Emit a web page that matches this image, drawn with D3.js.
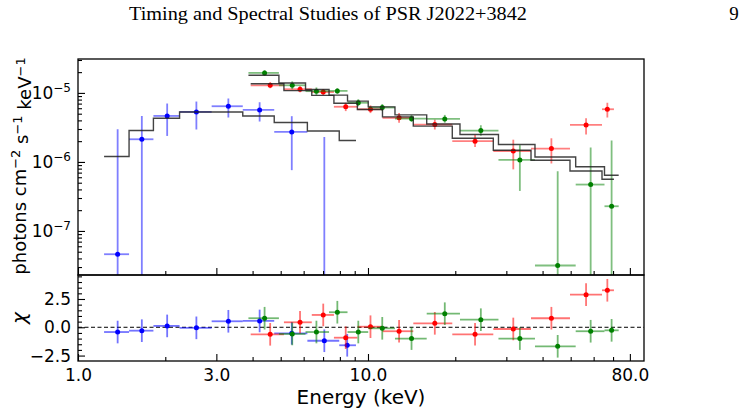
<!DOCTYPE html>
<html>
<head>
<meta charset="utf-8">
<script src="https://cdn.jsdelivr.net/npm/d3@7"></script>
<style>
  body { margin: 0; background: #fff; }
  text { font-family: "DejaVu Sans", sans-serif; }
</style>
</head>
<body>
<div id="canvas"></div>
<script>
// blue series (soft X-ray)
const blueLo = [1.23, 1.50, 1.82, 2.24, 2.89, 3.70, 4.75, 6.18, 7.96];
const blueHi = [1.50, 1.82, 2.24, 2.89, 3.70, 4.75, 6.18, 7.96, 9.09];
const blueE = [1.37, 1.66, 2.03, 2.56, 3.30, 4.23, 5.46, 7.07, 8.48];
const blueFlux = [4.6e-8, 2.13e-6, 4.64e-6, 5.3e-6, 6.41e-6, 5.67e-6, 2.72e-6, -3.8e-7, -3.5e-6];
const blueFluxLo = [-2.9e-6, -4e-7, 2.38e-6, 2.95e-6, 4.4e-6, 3.85e-6, 7.6e-7, -3.06e-6, -6.95e-6];
const blueFluxHi = [2.98e-6, 4.64e-6, 7.02e-6, 7.5e-6, 8.3e-6, 7.33e-6, 4.6e-6, 2.3e-6, -5e-8];
const blueModel = [1.2e-6, 2.85e-6, 4.3e-6, 5.3e-6, 5.3e-6, 4.64e-6, 3.72e-6, 2.81e-6, 2.04e-6];
const blueChi = [-0.42, -0.30, 0.12, -0.05, 0.53, 0.56, -0.53, -1.19, -1.59];

// red series
const redLo = [3.94, 5.13, 6.40, 7.63, 9.19, 11.22, 14.33, 19.53, 27.05, 36.49, 49.73, 64.12];
const redHi = [5.13, 6.40, 7.63, 9.19, 11.22, 14.33, 19.53, 27.05, 36.49, 49.73, 64.12, 70.5];
const redE = [4.60, 5.83, 7.01, 8.38, 10.2, 12.8, 17.0, 23.4, 31.7, 42.9, 56.5, 66.9];
const redFlux = [1.29e-5, 1.13e-5, 1.03e-5, 6.3e-6, 5.8e-6, 4.35e-6, 3.48e-6, 2.0e-6, 1.44e-6, 1.56e-6, 3.44e-6, 5.8e-6];
const redFluxLo = [1.17e-5, 1.02e-5, 9.3e-6, 5.45e-6, 5.1e-6, 3.7e-6, 2.95e-6, 1.65e-6, 7.8e-7, 9.5e-7, 2.5e-6, 4.4e-6];
const redFluxHi = [1.43e-5, 1.25e-5, 1.14e-5, 7.2e-6, 6.6e-6, 5.1e-6, 4.1e-6, 2.45e-6, 2.1e-6, 2.2e-6, 4.3e-6, 7.2e-6];
const redModel = [1.36e-5, 1.08e-5, 9.2e-6, 7.1e-6, 5.75e-6, 4.5e-6, 3.3e-6, 2.2e-6, 1.48e-6, 1.06e-6, 7.4e-7, 5.6e-7];
const redChi = [-0.62, 0.44, 1.09, -0.92, 0.05, -0.35, 0.35, -0.62, -0.15, 0.80, 2.88, 3.27];

// green series
const greenLo = [3.87, 4.93, 6.09, 7.34, 8.50, 10.02, 12.39, 15.94, 20.76, 28.18, 37.66, 52.03, 65.4];
const greenHi = [4.93, 6.09, 7.34, 8.50, 10.02, 12.39, 15.94, 20.76, 28.18, 37.66, 52.03, 65.4, 73.2];
const greenE = [4.40, 5.48, 6.64, 7.84, 9.26, 11.2, 14.13, 18.4, 24.5, 33.4, 45.1, 58.6, 69.2];
const greenFlux = [1.95e-5, 1.29e-5, 1.06e-5, 1.07e-5, 7.2e-6, 6.14e-6, 4.23e-6, 4.2e-6, 2.85e-6, 1.07e-6, 3.16e-8, 4.7e-7, 2.28e-7];
const greenFluxLo = [1.78e-5, 1.13e-5, 9.3e-6, 9.7e-6, 6.4e-6, 5.5e-6, 3.8e-6, 3.7e-6, 2.4e-6, 3.8e-7, -6.7e-7, -6.8e-7, -1.6e-6];
const greenFluxHi = [2.13e-5, 1.47e-5, 1.2e-5, 1.17e-5, 8.1e-6, 6.9e-6, 4.8e-6, 4.8e-6, 3.4e-6, 1.75e-6, 7.3e-7, 1.62e-6, 2.04e-6];
const greenModel = [1.8e-5, 1.39e-5, 1.12e-5, 9.3e-6, 7.6e-6, 6.27e-6, 4.8e-6, 3.55e-6, 2.5e-6, 1.79e-6, 1.18e-6, 8.5e-7, 6.4e-7];
const greenChi = [0.80, -0.59, -0.42, 1.33, -0.42, -0.09, -1.00, 1.20, 0.67, -1.00, -1.68, -0.35, -0.27];

// ticks
const xMajor = [1, 3, 10, 80];
const xMinor = [2, 4, 5, 6, 7, 8, 9, 20, 30, 40, 50, 60, 70];
const yMajor = [1e-7, 1e-6, 1e-5];
const chiMajor = [-2.5, 0, 2.5];

const width = 745, height = 414;
const pLeft = 78, pRight = 644, pTop = 59, pMid = 275, pBottom = 361;

const svg = d3.select("#canvas").append("svg")
  .attr("width", width).attr("height", height);

const x = d3.scaleLog().domain([1, 89.5]).range([pLeft, pRight]);
const yTop = d3.scaleLog().domain([2.3e-8, 3.1e-5]).range([pMid, pTop]);
const yRes = d3.scaleLinear().domain([-2.98, 4.62]).range([pBottom, pMid]);
const fy = v => yTop(v > 0 ? v : 1e-10);

// header
svg.append("text").attr("x", 328).attr("y", 20).attr("text-anchor", "middle")
  .style("font-family", "'Liberation Serif', serif")
  .attr("font-size", 19).attr("textLength", 398).attr("lengthAdjust", "spacingAndGlyphs")
  .text("Timing and Spectral Studies of PSR J2022+3842");
svg.append("text").attr("x", 734).attr("y", 20).attr("text-anchor", "middle")
  .style("font-family", "'Liberation Serif', serif").attr("font-size", 19).text("9");

const defs = svg.append("defs");
defs.append("clipPath").attr("id", "clipTop").append("rect")
  .attr("x", pLeft).attr("y", pTop).attr("width", pRight - pLeft).attr("height", pMid - pTop);
defs.append("clipPath").attr("id", "clipRes").append("rect")
  .attr("x", pLeft).attr("y", pMid).attr("width", pRight - pLeft).attr("height", pBottom - pMid);

const series = [
  { color: "#0000ff", lo: blueLo, hi: blueHi, e: blueE, f: blueFlux, fl: blueFluxLo, fh: blueFluxHi, m: blueModel, chi: blueChi },
  { color: "#ff0000", lo: redLo, hi: redHi, e: redE, f: redFlux, fl: redFluxLo, fh: redFluxHi, m: redModel, chi: redChi },
  { color: "#008000", lo: greenLo, hi: greenHi, e: greenE, f: greenFlux, fl: greenFluxLo, fh: greenFluxHi, m: greenModel, chi: greenChi }
];

const gTop = svg.append("g").attr("clip-path", "url(#clipTop)");
const gRes = svg.append("g").attr("clip-path", "url(#clipRes)");

// zero line
gRes.append("line").attr("x1", pLeft).attr("x2", pRight)
  .attr("y1", yRes(0)).attr("y2", yRes(0))
  .attr("stroke", "#000").attr("stroke-width", 1).attr("stroke-dasharray", "4,2.5");

const stepLine = d3.line().x(d => x(d[0])).y(d => yTop(d[1]));

series.forEach(s => {
  const pts = s.e.map((e, i) => ({ e, lo: s.lo[i], hi: s.hi[i], f: s.f[i], fl: s.fl[i], fh: s.fh[i], chi: s.chi[i] }));

  // error bars, spectrum
  const eb = gTop.append("g").attr("stroke", s.color).attr("stroke-width", 1.8).attr("stroke-opacity", 0.5);
  eb.selectAll(".h").data(pts).enter().append("line")
    .attr("x1", d => x(d.lo)).attr("x2", d => x(d.hi))
    .attr("y1", d => fy(d.f)).attr("y2", d => fy(d.f));
  eb.selectAll(".v").data(pts).enter().append("line")
    .attr("x1", d => x(d.e)).attr("x2", d => x(d.e))
    .attr("y1", d => fy(d.fl)).attr("y2", d => fy(d.fh));
  gTop.selectAll(null).data(pts.filter(d => d.f > 0)).enter().append("circle")
    .attr("cx", d => x(d.e)).attr("cy", d => yTop(d.f)).attr("r", 2.5).attr("fill", s.color);

  // residuals
  const rb = gRes.append("g").attr("stroke", s.color).attr("stroke-width", 1.8).attr("stroke-opacity", 0.55);
  rb.selectAll(".h").data(pts).enter().append("line")
    .attr("x1", d => x(d.lo)).attr("x2", d => x(d.hi))
    .attr("y1", d => yRes(d.chi)).attr("y2", d => yRes(d.chi));
  rb.selectAll(".v").data(pts).enter().append("line")
    .attr("x1", d => x(d.e)).attr("x2", d => x(d.e))
    .attr("y1", d => yRes(d.chi - 1)).attr("y2", d => yRes(d.chi + 1));
  gRes.selectAll(null).data(pts).enter().append("circle")
    .attr("cx", d => x(d.e)).attr("cy", d => yRes(d.chi)).attr("r", 2.5).attr("fill", s.color);
});

// model step lines
series.forEach(s => {
  const steps = [];
  s.m.forEach((m, i) => { steps.push([s.lo[i], m]); steps.push([s.hi[i], m]); });
  gTop.append("path").attr("d", stepLine(steps))
    .attr("fill", "none").attr("stroke", "#222").attr("stroke-width", 1.4).attr("stroke-opacity", 0.85);
});

// axes
function styleAxis(g) {
  g.attr("font-size", 17).attr("font-family", null);
  g.select(".domain").remove();
  g.selectAll(".tick line").attr("stroke", "#000").attr("stroke-width", 1.1);
}

const minorY = [];
for (let k = -8; k <= -5; k++) for (let m = 2; m <= 9; m++) minorY.push(m * Math.pow(10, k));

svg.append("g").attr("transform", `translate(0,${pMid})`)
  .call(d3.axisBottom(x).tickValues(xMajor).tickSize(-7).tickFormat("")).call(styleAxis);
svg.append("g").attr("transform", `translate(0,${pMid})`)
  .call(d3.axisBottom(x).tickValues(xMinor).tickSize(-4).tickFormat("")).call(styleAxis);

svg.append("g").attr("transform", `translate(0,${pBottom})`)
  .call(d3.axisBottom(x).tickValues(xMajor).tickSize(-7).tickPadding(8).tickFormat(d => d.toFixed(1))).call(styleAxis);
svg.append("g").attr("transform", `translate(0,${pBottom})`)
  .call(d3.axisBottom(x).tickValues(xMinor).tickSize(-4).tickFormat("")).call(styleAxis);

const yAx = svg.append("g").attr("transform", `translate(${pLeft},0)`)
  .call(d3.axisLeft(yTop).tickValues(yMajor).tickSize(-7).tickPadding(7).tickFormat("")).call(styleAxis);
yAx.selectAll(".tick text").each(function (d) {
  const t = d3.select(this);
  t.append("tspan").text("10");
  t.append("tspan").attr("dy", "-0.55em").attr("font-size", 12).text("\u2212" + Math.round(-Math.log10(d)));
});
svg.append("g").attr("transform", `translate(${pLeft},0)`)
  .call(d3.axisLeft(yTop).tickValues(minorY.filter(v => v > 2.3e-8 && v < 3.1e-5)).tickSize(-4).tickFormat("")).call(styleAxis);

svg.append("g").attr("transform", `translate(${pLeft},0)`)
  .call(d3.axisLeft(yRes).tickValues(chiMajor).tickSize(-7).tickPadding(7)
    .tickFormat(d => d === 0 ? "0.0" : (d < 0 ? "\u2212" : "") + Math.abs(d).toFixed(1))).call(styleAxis);
svg.append("g").attr("transform", `translate(${pLeft},0)`)
  .call(d3.axisLeft(yRes).tickValues(d3.range(-2.5, 4.6, 0.5).filter(v => Math.abs(v % 2.5) > 0.01)).tickSize(-4).tickFormat("")).call(styleAxis);

// frames
[[pTop, pMid], [pMid, pBottom]].forEach(([a, b]) => {
  svg.append("rect").attr("x", pLeft).attr("y", a).attr("width", pRight - pLeft).attr("height", b - a)
    .attr("fill", "none").attr("stroke", "#000").attr("stroke-width", 1.3);
});

// labels
svg.append("text").attr("x", (pLeft + pRight) / 2).attr("y", 404).attr("text-anchor", "middle")
  .attr("font-size", 20).text("Energy (keV)");

const yl = svg.append("text").attr("transform", `translate(26,${(pTop + pMid) / 2 - 1}) rotate(-90)`)
  .attr("text-anchor", "middle").attr("font-size", 18);
yl.append("tspan").text("photons cm");
yl.append("tspan").attr("dy", "-0.45em").attr("font-size", 13).text("\u22122");
yl.append("tspan").attr("dy", "0.45em").text(" s");
yl.append("tspan").attr("dy", "-0.45em").attr("font-size", 13).text("\u22121");
yl.append("tspan").attr("dy", "0.45em").text(" keV");
yl.append("tspan").attr("dy", "-0.45em").attr("font-size", 13).text("\u22121");

svg.append("text").attr("transform", `translate(26,${(pMid + pBottom) / 2}) rotate(-90)`)
  .attr("text-anchor", "middle").attr("font-size", 20).attr("font-style", "italic").text("\u03c7");
</script>
</body>
</html>
